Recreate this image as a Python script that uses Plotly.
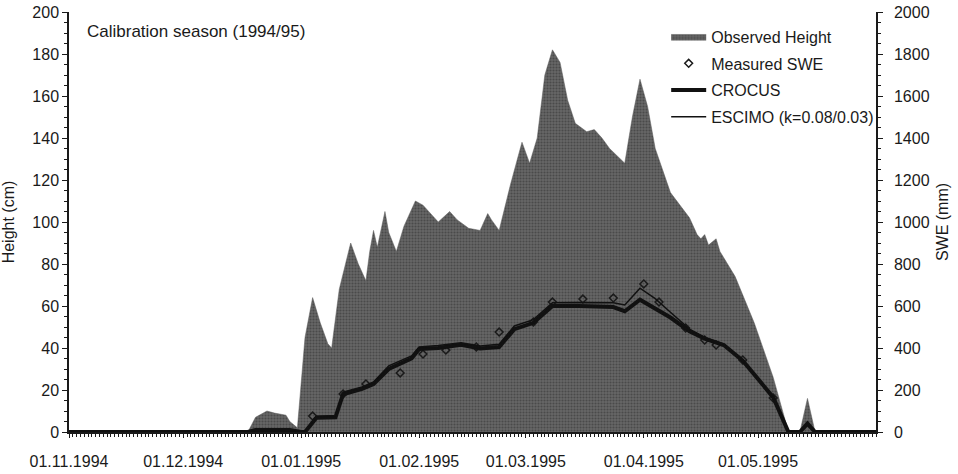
import plotly.graph_objects as go

# Observed snow height (cm)
height_dates = ["1994-12-18", "1994-12-20", "1994-12-23", "1994-12-25", "1994-12-28", "1994-12-29",
                "1994-12-31", "1995-01-01", "1995-01-02", "1995-01-04", "1995-01-06", "1995-01-08",
                "1995-01-09", "1995-01-11", "1995-01-14", "1995-01-16", "1995-01-18", "1995-01-19",
                "1995-01-20", "1995-01-21", "1995-01-23", "1995-01-24", "1995-01-26", "1995-01-28",
                "1995-01-31", "1995-02-02", "1995-02-06", "1995-02-09", "1995-02-11", "1995-02-14",
                "1995-02-17", "1995-02-19", "1995-02-20", "1995-02-22", "1995-02-25", "1995-02-28",
                "1995-03-02", "1995-03-04", "1995-03-06", "1995-03-08", "1995-03-10", "1995-03-12",
                "1995-03-14", "1995-03-17", "1995-03-19", "1995-03-21", "1995-03-23", "1995-03-27",
                "1995-03-29", "1995-03-31", "1995-04-02", "1995-04-04", "1995-04-08", "1995-04-13",
                "1995-04-15", "1995-04-16", "1995-04-17", "1995-04-18", "1995-04-20", "1995-04-21",
                "1995-04-25", "1995-04-30", "1995-05-05", "1995-05-09", "1995-05-12", "1995-05-14",
                "1995-05-16"]
height_cm = [0, 7, 10, 9, 8, 5,
             2, 22, 45, 64, 52, 42,
             40, 68, 90, 80, 72, 86,
             96, 88, 105, 95, 86, 98,
             110, 108, 100, 105, 101, 97,
             96, 104, 101, 96, 118, 138,
             128, 140, 170, 182, 176, 158,
             147, 143, 144, 140, 135, 128,
             150, 168, 155, 135, 114, 102,
             94, 92, 94, 89, 92, 86,
             74, 52, 26, 0, 0, 16,
             0]

# Modelled SWE (mm)
model_dates = ["1994-11-01", "1994-12-18", "1994-12-20", "1994-12-29", "1995-01-01", "1995-01-02",
               "1995-01-05", "1995-01-10", "1995-01-12", "1995-01-17", "1995-01-20", "1995-01-24",
               "1995-01-30", "1995-02-01", "1995-02-06", "1995-02-12", "1995-02-17", "1995-02-22",
               "1995-02-26", "1995-03-03", "1995-03-08", "1995-03-15", "1995-03-24", "1995-03-27",
               "1995-03-31", "1995-04-04", "1995-04-08", "1995-04-13", "1995-04-17", "1995-04-22",
               "1995-04-27", "1995-05-05", "1995-05-09", "1995-05-12", "1995-05-14", "1995-05-16",
               "1995-06-01"]
crocus_mm = [0, 0, 10, 10, 0, 0,
             68, 70, 180, 205, 228, 300,
             350, 395, 400, 415, 398, 405,
             490, 520, 600, 600, 595, 575,
             630, 590, 545, 480, 445, 414,
             340, 165, 0, 0, 40, 0,
             0]
escimo_mm = [0, 0, 8, 8, 0, 0,
             75, 78, 190, 215, 238, 315,
             362, 405, 412, 425, 410, 418,
             505, 535, 615, 617, 615, 605,
             685, 635, 570, 490, 450, 418,
             338, 160, 0, 0, 35, 0,
             0]

# Measured SWE (mm)
meas_dates = ["1995-01-04", "1995-01-12", "1995-01-18", "1995-01-27", "1995-02-02", "1995-02-08",
              "1995-02-16", "1995-02-22", "1995-03-03", "1995-03-08", "1995-03-16", "1995-03-24",
              "1995-04-01", "1995-04-05", "1995-04-12", "1995-04-17", "1995-04-20", "1995-04-27",
              "1995-05-05"]
meas_mm = [76, 181, 229, 281, 371, 390,
           405, 476, 524, 619, 633, 638,
           705, 619, 495, 438, 414, 343,
           162]

tick_dates = ["1994-11-01", "1994-12-01", "1995-01-01", "1995-02-01", "1995-03-01", "1995-04-01", "1995-05-01"]
tick_text = ["01.11.1994", "01.12.1994", "01.01.1995", "01.02.1995", "01.03.1995", "01.04.1995", "01.05.1995"]

FONT = "Liberation Sans, Arial, sans-serif"
INK = "#1a1a1a"

fig = go.Figure()
fig.add_trace(go.Scatter(
    x=height_dates, y=height_cm, name="Observed Height", mode="lines",
    line=dict(color="#5a5a5a", width=0.5), fill="tozeroy", fillcolor="#555555",
    fillpattern=dict(shape=".", fgcolor="#2e2e2e", bgcolor="#666666", size=3, solidity=0.4),
    legendgroup="a", yaxis="y"))
fig.add_trace(go.Scatter(
    x=meas_dates, y=meas_mm, name="Measured SWE", mode="markers",
    marker=dict(symbol="diamond-open", size=6, color=INK, line=dict(width=1.5, color=INK)),
    legendgroup="b", yaxis="y2"))
fig.add_trace(go.Scatter(
    x=model_dates, y=crocus_mm, name="CROCUS", mode="lines",
    line=dict(color="#111111", width=4), legendgroup="c", yaxis="y2"))
fig.add_trace(go.Scatter(
    x=model_dates, y=escimo_mm, name="ESCIMO (k=0.08/0.03)", mode="lines",
    line=dict(color="#111111", width=1.5), legendgroup="d", yaxis="y2"))

fig.update_layout(
    width=958, height=474,
    margin=dict(l=69, r=82, t=12, b=42),
    paper_bgcolor="white", plot_bgcolor="white",
    font=dict(family=FONT, size=16, color=INK),
    showlegend=True,
    legend=dict(x=0.74, y=0.982, xanchor="left", yanchor="top", bgcolor="rgba(0,0,0,0)",
                font=dict(size=16, color=INK), tracegroupgap=3, itemwidth=35),
    xaxis=dict(type="date", range=["1994-11-01", "1995-06-01"], tickvals=tick_dates, ticktext=tick_text,
               showgrid=False, zeroline=False, showline=True, linecolor=INK, linewidth=1.5,
               ticks="outside", ticklen=4, tickcolor=INK, ticklabelstandoff=10, automargin=False,
               minor=dict(dtick=86400000, ticks="outside", ticklen=3, tickcolor=INK, showgrid=False),
               tickfont=dict(size=16, color=INK)),
    yaxis=dict(range=[0, 200], tickvals=list(range(0, 201, 20)), showgrid=False, zeroline=False,
               showline=True, linecolor=INK, linewidth=1.5, ticks="outside", ticklen=5, tickcolor=INK,
               automargin=False,
               minor=dict(dtick=5, ticks="outside", ticklen=3, tickcolor=INK, showgrid=False),
               title=dict(text="Height (cm)", font=dict(size=16, color=INK), standoff=14),
               tickfont=dict(size=16, color=INK)),
    yaxis2=dict(range=[0, 2000], tickvals=list(range(0, 2001, 200)), overlaying="y", side="right",
                showgrid=False, zeroline=False, showline=True, linecolor=INK, linewidth=1.5,
                ticks="outside", ticklen=5, tickcolor=INK, ticklabelstandoff=8, automargin=False,
                minor=dict(dtick=50, ticks="outside", ticklen=3, tickcolor=INK, showgrid=False),
                title=dict(text="SWE (mm)", font=dict(size=16, color=INK), standoff=8),
                tickfont=dict(size=16, color=INK)),
    annotations=[dict(text="Calibration season (1994/95)", xref="paper", yref="paper", x=0.02, y=0.98,
                      xanchor="left", yanchor="top", showarrow=False, font=dict(size=17, color=INK))],
)

fig.write_html("out.html", config={"displayModeBar": False},
               post_script="document.body.style.margin='0';")
